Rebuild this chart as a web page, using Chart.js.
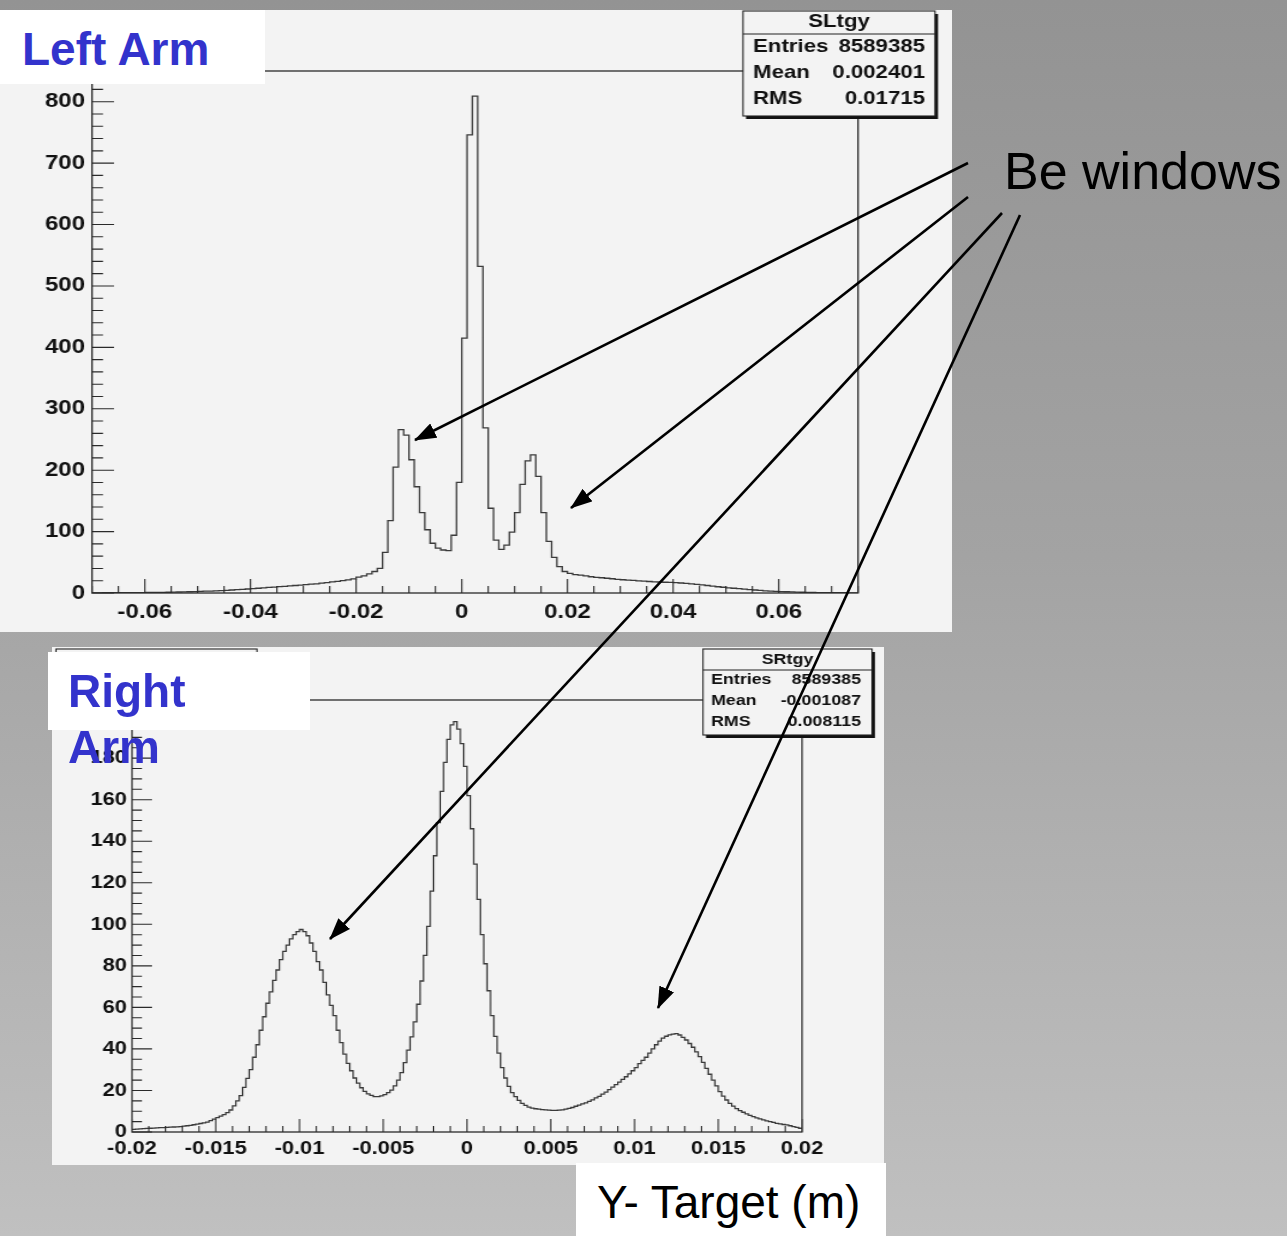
<!DOCTYPE html>
<html>
<head>
<meta charset="utf-8">
<title>Y target distributions</title>
<script src="https://cdn.jsdelivr.net/npm/chart.js@4.4.1/dist/chart.umd.min.js"></script>
<style>
  html, body { margin: 0; padding: 0; }
  body {
    width: 1287px; height: 1236px; position: relative; overflow: hidden;
    background: linear-gradient(to bottom, #939393 0%, #a3a3a3 45%, #c0c0c0 100%);
    font-family: "Liberation Sans", Arial, Helvetica, sans-serif;
  }
  .panel { position: absolute; background: #f3f3f3; overflow: hidden; }
  .panel .wide { position: absolute; left: 0; top: 0; transform-origin: 0 0; }
  .panel canvas { display: block; }
  .tag { position: absolute; background: #fff; z-index: 6; }
  .tag span, .note { position: absolute; white-space: nowrap; }
  .arm { color: #3333cc; font-weight: bold; font-size: 46px; }
  .note { z-index: 6; color: #000; }
  #arrows { position: absolute; left: 0; top: 0; z-index: 5; }
</style>
</head>
<body>

<div class="panel" id="leftPanel"><div class="wide"><canvas id="leftArm"></canvas></div></div>
<div class="panel" id="rightPanel"><div class="wide"><canvas id="rightArm"></canvas></div></div>

<div class="tag" style="left:0;top:10px;width:265px;height:74px;">
  <span class="arm" style="left:22px;top:16px;line-height:46px;">Left Arm</span>
</div>
<div class="tag" style="left:48px;top:652px;width:262px;height:78px;">
  <span class="arm" style="left:20px;top:11px;line-height:56px;">Right<br>Arm</span>
</div>
<span class="note" style="left:1004px;top:145px;font-size:52px;line-height:52px;">Be windows</span>
<div class="tag" style="left:576px;top:1163px;width:310px;height:73px;">
  <span style="left:21px;top:17px;font-size:46px;line-height:45px;">Y- Target (m)</span>
</div>

<svg id="arrows" width="1287" height="1236">
  <defs>
    <marker id="head" markerWidth="22" markerHeight="16" refX="21" refY="8" orient="auto" markerUnits="userSpaceOnUse">
      <path d="M0,0 L22,8 L0,16 z" fill="#000"/>
    </marker>
  </defs>
  <g stroke="#000" stroke-width="2.6" marker-end="url(#head)">
    <line x1="968" y1="163" x2="415" y2="440"/>
    <line x1="968" y1="197" x2="571" y2="508"/>
    <line x1="1002" y1="213" x2="330" y2="939"/>
    <line x1="1020" y1="215" x2="658" y2="1008"/>
  </g>
</svg>

<script>
// SLtgy: left arm y-target, 0.001 m bins from -0.07 to 0.075
const leftArmRange = [-0.07, 0.075];
const leftArmCounts = [
  0.3, 0.3, 0.4, 0.4, 0.5, 0.5, 0.5, 0.6, 0.6, 0.7,
  0.8, 0.9, 1.0, 1.1, 1.2, 1.4, 1.6, 1.8, 2.0, 2.3,
  2.6, 2.9, 3.2, 3.6, 4.0, 4.4, 4.9, 5.4, 6.0, 6.5,
  7.1, 7.7, 8.3, 9.0, 9.6, 10.3, 10.9, 11.5, 12.2, 12.9,
  13.6, 14.3, 15.0, 16.0, 17.0, 18.2, 19.0, 20.0, 21.5, 23.0,
  26, 28, 31, 35, 40, 66, 118, 205, 266, 257,
  217, 173, 131, 103, 81, 73, 70, 69, 94, 180,
  415, 746, 809, 532, 269, 138, 86, 71, 78, 99,
  131, 177, 215, 225, 190, 131, 84, 58, 43, 35,
  32, 30, 29, 27.8, 26.5, 25.5, 24.8, 24.0, 23.2, 22.3,
  21.6, 21.0, 20.4, 19.8, 19.3, 18.7, 18.2, 17.9, 17.5, 17.2,
  16.8, 16.3, 15.6, 14.8, 14.0, 13.2, 12.2, 11.2, 10.2, 9.4,
  8.5, 7.7, 7.0, 6.3, 5.6, 4.9, 4.2, 3.5, 3.0, 2.6,
  2.3, 2.0, 1.7, 1.4, 1.2, 1.0, 0.8, 0.7, 0.6, 0.5,
  0.5, 0.4, 0.4, 0.3, 0.3
];
const leftArmXTicks = [-0.06, -0.04, -0.02, 0, 0.02, 0.04, 0.06];
const leftArmYTicks = [0, 100, 200, 300, 400, 500, 600, 700, 800];
const leftArmStats = ['SLtgy', ['Entries', '8589385'], ['Mean', '0.002401'], ['RMS', '0.01715']];

// SRtgy: right arm y-target, 0.0002 m bins from -0.02 to 0.02
const rightArmRange = [-0.02, 0.02];
const rightArmCounts = [
  1.3, 1.4, 1.5, 1.6, 1.7, 1.8, 1.9, 2.0, 2.1, 2.1,
  2.2, 2.3, 2.4, 2.5, 2.6, 2.8, 3.0, 3.2, 3.5, 3.8,
  4.1, 4.4, 4.8, 5.5, 6.2, 6.9, 7.6, 8.4, 9.3, 10.6,
  12.6, 15, 17.5, 21.5, 25.8, 30, 36, 42, 49, 55.5,
  62, 67.5, 73, 78, 83, 87, 90, 93, 95, 96.5,
  97.5, 96.5, 94.5, 91, 87, 82, 78, 72, 66, 61,
  56, 49, 43, 37.5, 33, 29.5, 26, 23.5, 21.3, 19.6,
  18.4, 17.6, 17.0, 17.0, 17.4, 18.0, 19.0, 20.2, 22.2, 25.0,
  28.6, 33.4, 39.4, 45.8, 53, 61.5, 72.7, 85, 99, 116,
  133, 149, 164, 178, 189, 196, 197.6, 194, 187, 176,
  162, 146, 129, 112, 95, 81, 68, 56, 46, 38,
  31, 26, 22, 19, 17, 15.2, 13.8, 12.8, 12.0, 11.5,
  11.2, 11.0, 10.8, 10.7, 10.5, 10.4, 10.4, 10.5, 10.7, 11.0,
  11.4, 11.8, 12.4, 12.9, 13.5, 14.0, 14.7, 15.5, 16.4, 17.2,
  18.2, 19.2, 20.4, 21.6, 22.8, 24.0, 25.3, 26.6, 28.0, 29.5,
  31.0, 32.9, 34.5, 36.0, 38.0, 40.0, 42.0, 43.8, 45.2, 46.1,
  46.8, 47.1, 47.4, 46.7, 45.6, 44.3, 42.6, 40.8, 38.6, 36.3,
  33.5, 30.6, 27.8, 25.0, 22.2, 19.4, 17.3, 15.4, 13.8, 12.5,
  11.3, 10.3, 9.5, 8.7, 8.0, 7.4, 6.8, 6.3, 5.8, 5.4,
  5.0, 4.6, 4.2, 3.9, 3.6, 3.4, 3.0, 2.6, 2.2, 1.8
];
const rightArmXTicks = [-0.02, -0.015, -0.01, -0.005, 0, 0.005, 0.01, 0.015, 0.02];
const rightArmYTicks = [0, 20, 40, 60, 80, 100, 120, 140, 160, 180];
const rightArmStats = ['SRtgy', ['Entries', '8589385'], ['Mean', '-0.001087'], ['RMS', '0.008115']];

const FONT = '"Liberation Sans", Arial, Helvetica, sans-serif';

// bin low edges plus the closing edge, drawn as a step line
function binEdges(counts, range) {
  const w = (range[1] - range[0]) / counts.length;
  const pts = counts.map((c, i) => ({ x: range[0] + i * w, y: c }));
  pts.push({ x: range[1], y: counts[counts.length - 1] });
  return pts;
}

// ROOT style frame: inward ticks, box, stat pave and title pave
const rootFrame = {
  id: 'rootFrame',
  afterDatasetsDraw(chart, args, o) {
    const { ctx, chartArea: a, scales: { x, y } } = chart;
    const k = o.k;
    ctx.save();
    ctx.strokeStyle = '#2a2a2a';
    ctx.lineWidth = 1.1;
    ctx.beginPath();
    const ny = Math.floor(y.max / o.yMinor + 1e-9);
    for (let i = 0; i <= ny; i++) {
      const v = i * o.yMinor;
      const len = (v % o.yMajor === 0 ? o.yMajorLen : o.yMinorLen) / k;
      const py = y.getPixelForValue(v);
      ctx.moveTo(a.left, py);
      ctx.lineTo(a.left + len, py);
    }
    const i0 = Math.ceil(x.min / o.xMinor - 1e-9);
    const i1 = Math.floor(x.max / o.xMinor + 1e-9);
    for (let i = i0; i <= i1; i++) {
      const v = i * o.xMinor;
      const r = v / o.xMajor;
      const len = Math.abs(r - Math.round(r)) < 1e-6 ? o.xMajorLen : o.xMinorLen;
      const px = x.getPixelForValue(v);
      ctx.moveTo(px, a.bottom);
      ctx.lineTo(px, a.bottom - len);
    }
    ctx.stroke();
    ctx.lineWidth = 1.3;
    ctx.strokeRect(a.left, a.top, a.right - a.left, a.bottom - a.top);
    ctx.restore();
  },
  afterDraw(chart, args, o) {
    const ctx = chart.ctx;
    const k = o.k;
    const pave = (b) => {
      const x0 = b[0] / k, x1 = b[1] / k;
      ctx.fillStyle = '#111';
      ctx.fillRect(x0 + 3 / k, b[2] + 3, x1 - x0, b[3] - b[2]);
      ctx.fillStyle = '#f3f3f3';
      ctx.fillRect(x0, b[2], x1 - x0, b[3] - b[2]);
      ctx.strokeStyle = '#222';
      ctx.lineWidth = 1.1;
      ctx.strokeRect(x0, b[2], x1 - x0, b[3] - b[2]);
    };
    ctx.save();
    pave(o.titleBox);
    const s = o.stats;
    pave(s.box);
    const x0 = s.box[0] / k, x1 = s.box[1] / k;
    ctx.beginPath();
    ctx.moveTo(x0, s.sep);
    ctx.lineTo(x1, s.sep);
    ctx.stroke();
    ctx.fillStyle = '#111';
    ctx.font = `bold ${s.font}px ${FONT}`;
    ctx.textBaseline = 'middle';
    ctx.textAlign = 'center';
    ctx.fillText(s.text[0], (x0 + x1) / 2, s.titleY);
    s.text.slice(1).forEach((row, i) => {
      ctx.textAlign = 'left';
      ctx.fillText(row[0], s.textL / k, s.rowY[i]);
      ctx.textAlign = 'right';
      ctx.fillText(row[1], s.textR / k, s.rowY[i]);
    });
    ctx.restore();
  }
};

function drawHistogram(cfg) {
  const panel = document.getElementById(cfg.panelId);
  const p = cfg.panel;
  Object.assign(panel.style, {
    left: p.left + 'px', top: p.top + 'px', width: p.width + 'px', height: p.height + 'px'
  });
  const cw = Math.round(p.width / cfg.sx);
  const k = p.width / cw;
  panel.firstElementChild.style.transform = `scaleX(${k})`;
  const canvas = document.getElementById(cfg.canvasId);
  canvas.width = cw;
  canvas.height = p.height;

  const f = cfg.frame;
  const tickFont = { family: FONT, size: cfg.fontSize, weight: 'bold' };

  return new Chart(canvas, {
    type: 'line',
    data: {
      datasets: [{
        data: binEdges(cfg.counts, cfg.range),
        stepped: true,
        borderColor: '#3a3a3a',
        borderWidth: 1.3,
        pointRadius: 0,
        fill: false
      }]
    },
    options: {
      responsive: false,
      animation: false,
      events: [],
      layout: { padding: { left: 0, top: f.top, right: cw - f.right / k, bottom: 0 } },
      plugins: {
        legend: { display: false },
        tooltip: { enabled: false },
        rootFrame: Object.assign({ k: k }, cfg.axes, { stats: cfg.stats, titleBox: cfg.titleBox })
      },
      scales: {
        x: {
          type: 'linear',
          min: cfg.range[0],
          max: cfg.range[1],
          grid: { display: false, drawTicks: false },
          border: { display: false },
          afterBuildTicks: (s) => { s.ticks = cfg.xTicks.map(v => ({ value: v })); },
          afterFit: (s) => { s.height = p.height - f.bottom; },
          ticks: {
            autoSkip: false, maxRotation: 0, padding: cfg.xPad,
            color: '#111', font: tickFont,
            callback: (v) => String(v)
          }
        },
        y: {
          min: 0,
          max: cfg.yMax,
          grid: { display: false, drawTicks: false },
          border: { display: false },
          afterBuildTicks: (s) => { s.ticks = cfg.yTicks.map(v => ({ value: v })); },
          afterFit: (s) => { s.width = f.left / k; },
          ticks: {
            autoSkip: false, padding: cfg.yPad / k,
            color: '#111', font: tickFont,
            callback: (v) => String(v)
          }
        }
      }
    },
    plugins: [rootFrame]
  });
}

drawHistogram({
  panelId: 'leftPanel', canvasId: 'leftArm',
  panel: { left: 0, top: 10, width: 952, height: 622 },
  sx: 1.2,
  frame: { left: 92, right: 858, top: 61, bottom: 583 },
  counts: leftArmCounts, range: leftArmRange, yMax: 850,
  xTicks: leftArmXTicks, yTicks: leftArmYTicks,
  fontSize: 20, xPad: 7, yPad: 7,
  axes: { yMinor: 20, yMajor: 100, yMajorLen: 22, yMinorLen: 11,
          xMinor: 0.005, xMajor: 0.02, xMajorLen: 14, xMinorLen: 7 },
  titleBox: [4, 205, 2, 40],
  stats: { text: leftArmStats, box: [743, 935, 1, 106], sep: 24, titleY: 12,
           rowY: [37, 63, 89], textL: 753, textR: 925, font: 18.5 }
});

drawHistogram({
  panelId: 'rightPanel', canvasId: 'rightArm',
  panel: { left: 52, top: 647, width: 832, height: 518 },
  sx: 1.15,
  frame: { left: 80, right: 750, top: 53, bottom: 485 },
  counts: rightArmCounts, range: rightArmRange, yMax: 208,
  xTicks: rightArmXTicks, yTicks: rightArmYTicks,
  fontSize: 19, xPad: 5, yPad: 5,
  axes: { yMinor: 5, yMajor: 20, yMajorLen: 20, yMinorLen: 10,
          xMinor: 0.001, xMajor: 0.005, xMajorLen: 13, xMinorLen: 6 },
  titleBox: [4, 205, 2, 40],
  stats: { text: rightArmStats, box: [651, 820, 2, 88], sep: 23, titleY: 12.5,
           rowY: [33, 54, 74.5], textL: 659, textR: 809, font: 15.5 }
});
</script>
</body>
</html>
